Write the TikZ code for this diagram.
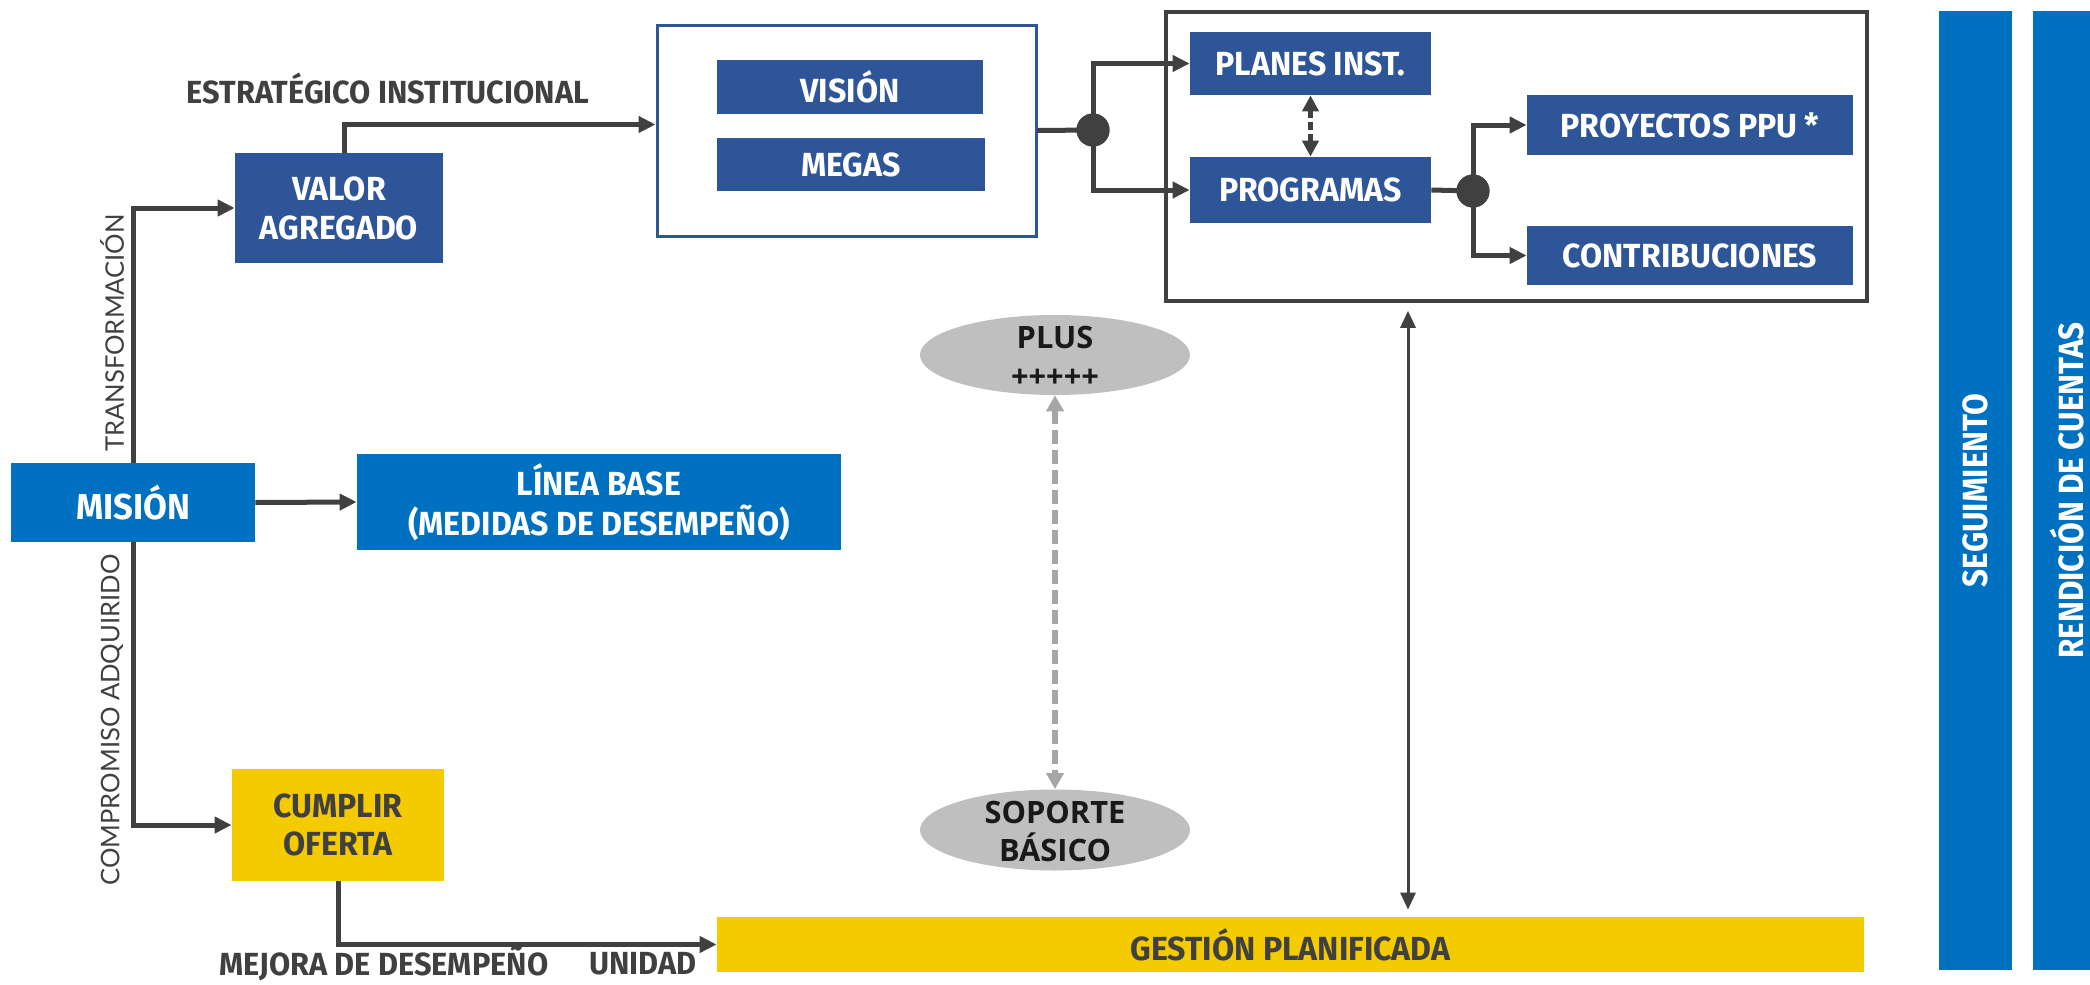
\documentclass[tikz,border=0pt]{standalone}
\usepackage{fontspec}
\setmainfont{Fira Sans}
\newfontfamily\cond[FakeStretch=0.96]{Fira Sans}
\newfontfamily\condb[FakeStretch=0.9]{Fira Sans}
\newfontfamily\ofont{Open Sans}
\newfontfamily\lfont{Lato}
\usetikzlibrary{arrows.meta,calc,shapes.geometric}
\definecolor{dblue}{RGB}{46,85,151}
\definecolor{bblue}{RGB}{0,112,192}
\definecolor{yel}{RGB}{244,203,0}
\definecolor{lgray}{RGB}{64,64,64}
\definecolor{egray}{RGB}{191,191,191}
\definecolor{dgray}{RGB}{166,166,166}
\begin{document}
\begin{tikzpicture}[x=0.5pt,y=-0.5pt,
  box/.style={rectangle, inner sep=0pt, align=center, font=\cond\bfseries\fontsize{16.7}{19.5}\selectfont, text=white},
  dbox/.style={box, fill=dblue},
  bbox/.style={box, fill=bblue},
  ybox/.style={box, fill=yel, text=lgray},
  arr/.style={draw=lgray, line width=2.5pt, -{Triangle[length=8.5pt,width=8pt]}},
  ln/.style={draw=lgray, line width=2.5pt},
  lbl/.style={font=\cond\bfseries\fontsize{16}{18}\selectfont, text=lgray, inner sep=0pt},
  vlbl/.style={font=\lfont\fontsize{12.8}{15}\selectfont, text=lgray, rotate=90, inner sep=0pt},
  ell/.style={ellipse, fill=egray, inner sep=0pt, minimum width=135pt, minimum height=40pt},
  etext/.style={align=center, inner sep=0pt, font=\ofont\bfseries\fontsize{15.4}{19.5}\selectfont, text=black!90},
  dot/.style={circle, fill=lgray, minimum size=16.5pt, inner sep=0pt},
  bar/.style={rectangle, fill=bblue, inner sep=0pt, minimum height=479.5pt},
  bartext/.style={inner sep=0pt, rotate=90, font=\condb\bfseries\fontsize{17.5}{20}\selectfont, text=white}
]
\clip (0,0) rectangle (2090,985);
\fill[white] (0,0) rectangle (2090,985);

% left column
\node[bbox, minimum width=122pt, minimum height=39.5pt, font=\cond\bfseries\fontsize{18}{20}\selectfont] (mision) at (133,502.5) {MISIÓN};
\node[bbox, minimum width=242pt, minimum height=48pt, font=\cond\bfseries\fontsize{16.7}{20}\selectfont] (linea) at (599,502) {LÍNEA BASE\\(MEDIDAS DE DESEMPEÑO)};
\node[dbox, minimum width=104pt, minimum height=55pt] (valor) at (339,208) {VALOR\\AGREGADO};
\node[ybox, minimum width=106pt, minimum height=56pt, font=\cond\bfseries\fontsize{16.7}{19}\selectfont] (cumplir) at (338,825) {CUMPLIR\\OFERTA};
\node[ybox, minimum width=573.5pt, minimum height=27.5pt] (gestion) at (1290.5,944.5) {GESTIÓN PLANIFICADA};

% vision block
\node[rectangle, draw=dblue, line width=1.5pt, fill=white, minimum width=189.5pt, minimum height=105.5pt, inner sep=0pt] (visionbox) at (846.5,130.5) {};
\node[dbox, minimum width=133pt, minimum height=27pt] (vision) at (850,87) {VISIÓN};
\node[dbox, minimum width=134pt, minimum height=26.5pt] (megas) at (851,164.5) {MEGAS};

% big box
\node[rectangle, draw=lgray, line width=1.75pt, minimum width=350.5pt, minimum height=144.5pt, inner sep=0pt] (bigbox) at (1516.5,156.5) {};
\node[dbox, minimum width=120.5pt, minimum height=31.5pt] (planes) at (1310.5,63.5) {PLANES INST.};
\node[dbox, minimum width=120.5pt, minimum height=33pt] (programas) at (1310.5,190) {PROGRAMAS};
\node[dbox, minimum width=163pt, minimum height=30pt] (proyectos) at (1690,125) {PROYECTOS PPU *};
\node[dbox, minimum width=163pt, minimum height=29.5pt] (contrib) at (1690,255.5) {CONTRIBUCIONES};

% ellipses
\node[ell] (plus) at (1055,355) {};
\node[etext] (plustxt) at (1055,356.5) {PLUS\\+++++};
\node[ell, minimum height=40.5pt] (soporte) at (1055,830) {};
\node[etext, font=\ofont\bfseries\fontsize{15.4}{19}\selectfont] (soportetxt) at (1055,831) {SOPORTE\\BÁSICO};

% right bars
\node[bar, minimum width=36.5pt] (bar1) at (1975.5,490.5) {};
\node[bartext] (seg) at (bar1.center) {SEGUIMIENTO};
\node[bar, minimum width=28.5pt] (bar2) at (2061.5,490.5) {};
\node[bartext] (rend) at (2067,490.5) {RENDICIÓN DE CUENTAS};

% labels
\node[lbl] (lest) at (388,88) {ESTRATÉGICO INSTITUCIONAL};
\node[lbl] (lmej) at (384,964) {MEJORA DE DESEMPEÑO};
\node[lbl] (luni) at (643,964) {UNIDAD};
\node[vlbl] (ltra) at (112,333) {TRANSFORMACIÓN};
\node[vlbl] (lcom) at (112,720) {COMPROMISO ADQUIRIDO};

% connectors
\draw[arr] (mision.north) |- (valor.west);
\draw[arr] (mision.south) |- (cumplir.west);
\draw[arr] (mision.east) -- (linea.west);
\draw[arr] ($(valor.north)+(5,0)$) |- ($(visionbox.west)+(0,-6)$);
\draw[arr] (cumplir.south) |- (gestion.west);

\node[dot] (dot1) at (1093,130) {};
\draw[ln] (visionbox.east) -- (dot1.center);
\draw[arr] (dot1.center) |- (planes.west);
\draw[arr] (dot1.center) |- (programas.west);
\node[dot] (dot1b) at (dot1) {};

\node[dot] (dot2) at (1473,191) {};
\draw[ln] (programas.east) -- (dot2.center);
\draw[arr] (dot2.center) |- (proyectos.west);
\draw[arr] (dot2.center) |- (contrib.west);
\node[dot] (dot2b) at (dot2) {};

\draw[draw=lgray, line width=2.5pt, dash pattern=on 4pt off 2pt, {Triangle[length=8pt,width=8pt]}-{Triangle[length=8pt,width=8pt]}] (planes.south) -- (programas.north);

\draw[draw=dgray, line width=3pt, dash pattern=on 7pt off 3pt, {Triangle[length=8pt,width=8.5pt]}-{Triangle[length=8pt,width=8.5pt]}] (plus.south) -- (soporte.north);

\coordinate (gx) at (1408,0);
\draw[draw=lgray, line width=1.5pt, shorten <=4pt, shorten >=3.5pt, {Triangle[length=8.5pt,width=7.5pt]}-{Triangle[length=8.5pt,width=7.5pt]}] (bigbox.south -| gx) -- (gestion.north -| gx);
\end{tikzpicture}
\end{document}
